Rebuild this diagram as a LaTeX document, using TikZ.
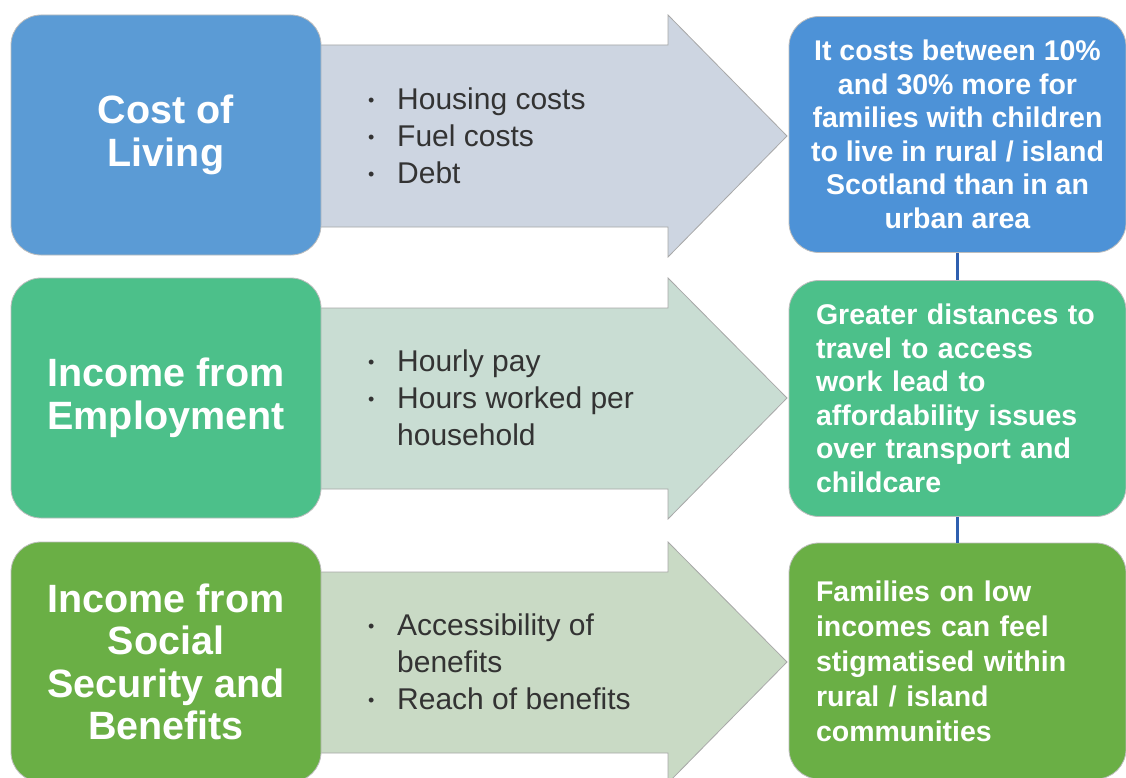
\documentclass[tikz,border=0pt]{standalone}
\usepackage{fontspec}
\setmainfont{Liberation Sans}
\usepackage{tikz}
\usetikzlibrary{positioning}
\definecolor{costblue}{HTML}{5B9BD5}
\definecolor{costbluedeep}{HTML}{4D92D7}
\definecolor{workgreen}{HTML}{4CC08A}
\definecolor{benefitgreen}{HTML}{6AAF45}
\definecolor{costband}{HTML}{CDD5E1}
\definecolor{workband}{HTML}{C9DDD3}
\definecolor{benefitband}{HTML}{C9DAC5}
\definecolor{boxline}{HTML}{BDBDBD}
\definecolor{bandline}{HTML}{A8A8A8}
\definecolor{linkblue}{HTML}{2E5FAF}
\definecolor{itemgray}{HTML}{333333}
\newcommand{\itembul}{\makebox[29pt][l]{\raisebox{3.5pt}{\fontsize{18}{18}\selectfont\textbullet}}}
\tikzstyle{cause}=[rectangle, rounded corners=30, draw=boxline, line width=0.8,
    minimum width=310, minimum height=240, text=white, align=center,
    font=\bfseries\fontsize{39.5}{42.5}\selectfont]
\tikzstyle{effect}=[rectangle, rounded corners=30, draw=boxline, line width=0.8,
    minimum width=337, minimum height=236, text=white,
    font=\bfseries\fontsize{28.5}{33.5}\selectfont]
\tikzstyle{band}=[draw=bandline, line width=0.8]
\tikzstyle{items}=[anchor=west, inner sep=0, align=left, text=itemgray,
    font=\fontsize{30}{37}\selectfont]
\tikzstyle{link}=[draw=linkblue, line width=3]

\begin{document}
\begin{tikzpicture}[x=1pt, y=-1pt]
\useasboundingbox (0,0) rectangle (1126,778);
\clip (0,0) rectangle (1126,778);
\fill[white] (0,0) rectangle (1126,778);
% arrows behind the boxes
\draw[band, fill=costband] (300,45) -- (668,45) -- (668,15) -- (787,136) -- (668,257) -- (668,227) -- (300,227) -- cycle;
\draw[band, fill=workband] (300,308) -- (668,308) -- (668,278) -- (787,398) -- (668,519) -- (668,489) -- (300,489) -- cycle;
\draw[band, fill=benefitband] (300,572) -- (668,572) -- (668,542) -- (787,662) -- (668,783) -- (668,753) -- (300,753) -- cycle;
\node[items] (list1) at (368,136) {\itembul Housing costs\\\itembul Fuel costs\\\itembul Debt};
\node[items] (list2) at (368,398) {\itembul Hourly pay\\\itembul Hours worked per\\\hspace*{29pt}household};
\node[items] (list3) at (368,662) {\itembul Accessibility of\\\hspace*{29pt}benefits\\\itembul Reach of benefits};
% left column
\node[cause, fill=costblue] (cost) at (166,135) {Cost of\\Living};
\node[cause, fill=workgreen] (work) at (166,398) {Income from\\Employment};
\node[cause, fill=benefitgreen] (benefit) at (166,662) {Income from\\Social\\Security and\\Benefits};
% right column
\node[effect, fill=costbluedeep, align=center] (effect1) at (957.5,134.5)
  {It costs between 10\%\\and 30\% more for\\families with children\\to live in rural / island\\Scotland than in an\\urban area};
\node[effect, fill=workgreen, text width=283, align=left] (effect2) at (957.5,398.5)
  {Greater distances to\\travel to access\\work lead to\\affordability issues\\over transport and\\childcare};
\node[effect, fill=benefitgreen, text width=283, align=left,
  font=\bfseries\fontsize{28.5}{35}\selectfont] (effect3) at (957.5,661)
  {Families on low\\incomes can feel\\stigmatised within\\rural / island\\communities};
\draw[link] (effect1) -- (effect2);
\draw[link] (effect2) -- (effect3);
\end{tikzpicture}
\end{document}
